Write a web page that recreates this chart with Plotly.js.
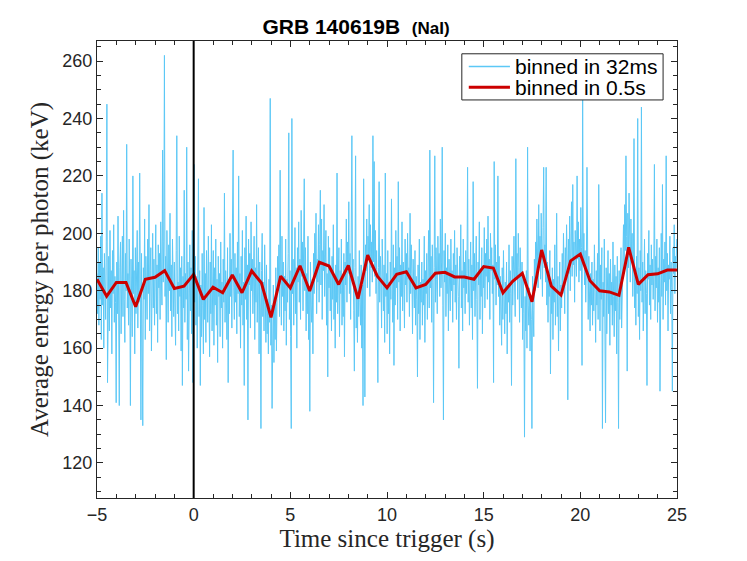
<!DOCTYPE html>
<html>
<head>
<meta charset="utf-8">
<script src="https://cdn.plot.ly/plotly-3.0.1.min.js"></script>
<style>
  html, body { margin: 0; padding: 0; background: #fff; }
  #plot { width: 747px; height: 561px; }
</style>
</head>
<body>
<div id="plot"></div>
<script>
// ── Data ──────────────────────────────────────────────────────────────────────
const T_START   = -5;      // s, first bin
const FINE_BIN  = 0.032;   // s
const COARSE_BIN = 0.5;    // s
const TRIGGER_T = 0;

const FINE_NAME   = 'binned in 32ms';
const COARSE_NAME = 'binned in 0.5s';

// average energy per photon (keV), 32 ms bins
const fineKeV = [
  186,172,195,168,190,177,199,163,214,175,188,160,193,181,170,197,245,148,183,192,166,201,174,187,158,
  194,179,203,169,185,176,141,190,172,206,181,140,188,197,165,184,199,171,208,177,162,193,180,231,174,
  186,168,198,182,140,191,175,164,220,179,187,158,195,172,183,201,167,190,176,221,181,135,193,170,133,
  188,177,205,163,192,184,170,198,179,210,166,187,195,159,183,200,174,191,168,185,203,172,189,162,196,
  181,193,170,204,186,175,229,183,197,262,178,192,156,201,185,169,196,180,207,173,189,164,198,182,171,
  190,176,161,194,234,172,183,166,199,178,188,159,192,147,185,174,215,169,186,177,230,163,190,152,181,
  196,173,188,165,201,148,184,224,176,192,168,185,160,179,219,171,187,147,182,164,193,175,158,209,170,
  186,162,194,177,169,199,183,157,190,172,203,166,181,194,161,188,175,198,168,184,155,192,178,186,164,
  197,174,183,160,191,176,214,169,187,180,163,195,148,184,172,200,178,191,167,205,229,181,170,193,176,
  188,165,197,179,220,171,186,160,192,175,201,168,183,147,195,177,206,170,189,135,198,182,193,167,204,
  180,191,172,186,199,163,188,176,210,169,184,195,158,190,174,132,187,200,171,183,166,196,179,162,189,
  165,177,158,184,169,247,161,175,139,170,182,155,176,163,188,159,173,192,180,196,171,222,185,168,199,
  178,190,166,185,173,198,161,184,176,193,235,170,187,164,132,240,179,191,168,182,202,172,188,160,195,
  183,204,176,191,170,208,185,197,173,189,219,180,195,166,186,172,199,163,181,138,190,175,169,184,158,
  193,179,200,185,207,172,191,183,203,176,196,215,182,205,170,194,187,210,178,190,201,168,186,150,199,
  181,195,173,188,166,192,177,203,170,185,160,189,176,221,172,183,195,164,187,179,198,168,184,171,193,
  157,190,182,205,176,197,186,211,179,193,170,200,234,184,191,173,152,188,227,167,180,162,185,171,194,
  176,168,189,160,182,140,219,174,143,196,187,205,181,199,192,210,178,203,188,197,183,234,190,225,185,
  201,179,194,171,148,188,218,176,192,184,167,198,180,173,189,162,221,178,186,165,194,172,183,158,190,
  177,212,184,169,196,154,188,175,201,181,192,170,218,183,195,166,189,178,204,173,190,185,167,198,182,
  193,176,200,184,188,171,207,179,196,186,165,191,180,174,194,168,185,177,150,189,172,198,163,183,176,
  190,168,184,175,199,162,187,179,193,170,186,201,174,229,181,192,169,196,183,141,188,227,176,195,184,
  172,199,186,193,178,205,181,190,230,175,135,194,183,200,171,188,179,196,166,191,184,173,198,180,187,
  169,193,182,201,176,189,170,195,184,178,153,192,185,203,174,187,166,198,181,190,172,194,179,186,223,
  176,191,168,185,197,174,189,163,218,180,193,171,186,199,177,146,190,182,204,170,187,178,195,165,188,
  181,202,174,193,185,198,177,206,183,191,170,200,187,195,179,189,148,225,184,196,175,190,182,220,178,
  192,168,185,174,161,188,170,194,177,165,183,172,190,158,181,176,196,169,187,179,147,192,175,186,199,
  182,171,226,185,193,177,200,188,169,195,181,174,190,163,184,172,129,178,166,187,160,230,175,168,181,
  159,177,170,132,185,173,164,191,180,197,186,205,192,181,210,189,199,184,207,193,178,202,223,188,196,
  183,223,175,190,169,186,178,194,151,181,172,188,163,184,176,196,168,180,207,171,185,159,178,190,166,
  182,174,193,179,200,187,172,195,184,203,190,142,198,186,206,180,193,211,185,217,189,197,176,201,192,
  185,220,191,204,183,198,187,209,195,154,248,189,200,182,194,176,188,223,179,170,192,181,166,186,175,
  190,168,184,173,196,179,162,187,175,193,170,217,181,166,189,177,195,132,183,171,198,176,134,188,165,
  180,194,172,186,161,191,175,183,168,197,178,164,189,173,185,158,192,176,132,187,170,182,195,167,184,
  191,203,186,210,194,227,199,152,207,188,214,196,183,205,192,200,178,189,233,174,185,168,192,179,240,
  171,188,163,194,180,244,176,190,166,185,198,172,187,179,147,193,184,201,175,189,170,196,182,191,177,
  186,224,173,192,181,198,169,188,176,195,145,184,200,178,217,170,191,183,197,175,227,180,193,166,189,
  184,199,172,190,181,145,195,186,203,179,192,188,198
];

// average energy per photon (keV), 0.5 s bins
const coarseKeV = [
  184.0,178.1,182.9,182.9,174.4,184.0,184.7,187.0,180.8,181.6,
  185.7,177.0,181.2,179.3,185.5,179.3,186.9,182.8,170.7,185.1,
  181.0,188.7,179.9,189.9,188.6,182.2,188.8,177.2,192.4,185.1,
  181.0,185.7,186.6,181.0,182.2,186.1,186.4,184.8,184.8,184.0,
  188.4,187.9,179.3,183.3,186.1,176.2,194.2,181.6,178.5,190.4,
  192.8,183.5,180.0,179.6,178.4,195.1,182.2,185.6,185.9,187.2,
  187.2
];

const X_RANGE = [-5, 25];
const Y_RANGE = [107.8, 267];

// ── Styles ────────────────────────────────────────────────────────────────────
const SANS  = "'Liberation Sans', Arial, sans-serif";
const SERIF = "'Liberation Serif', 'Times New Roman', serif";
const INK   = '#262626';
const FINE_LINE   = { color: '#5cc8f6', width: 1 };
const COARSE_LINE = { color: '#cc0000', width: 3 };

const TICK_FONT  = { family: SANS,  size: 18, color: INK };
const LABEL_FONT = { family: SERIF, size: 25, color: INK };

const AXIS_BOX = {
  showline: true, linecolor: INK, linewidth: 1,
  mirror: 'ticks', ticks: 'inside', ticklen: 6, tickcolor: INK, tickwidth: 1,
  showgrid: false, zeroline: false,
  tickfont: TICK_FONT,
};

// ── Traces ────────────────────────────────────────────────────────────────────
const traces = [
  {
    type: 'scatter', mode: 'lines',
    x0: T_START, dx: FINE_BIN, y: fineKeV,
    line: FINE_LINE, name: FINE_NAME,
  },
  {
    type: 'scatter', mode: 'lines',
    x0: T_START, dx: COARSE_BIN, y: coarseKeV,
    line: COARSE_LINE, name: COARSE_NAME,
  },
];

// ── Legend box (MATLAB-style, tighter rows than Plotly's own legend) ──────────
// paper coords of the box and its two rows
const LEG = { x0: 0.629, x1: 0.976, y0: 0.871, y1: 0.972,
              lineX0: 0.641, lineX1: 0.712, textX: 0.717,
              rows: [0.944, 0.899] };

function legendShapes() {
  const box = {
    type: 'rect', xref: 'paper', yref: 'paper', layer: 'above',
    x0: LEG.x0, x1: LEG.x1, y0: LEG.y0, y1: LEG.y1,
    fillcolor: '#fff', line: { color: INK, width: 1 },
  };
  const samples = [FINE_LINE, COARSE_LINE].map((ln, i) => ({
    type: 'line', xref: 'paper', yref: 'paper', layer: 'above',
    x0: LEG.lineX0, x1: LEG.lineX1, y0: LEG.rows[i], y1: LEG.rows[i],
    line: { color: ln.color, width: ln.width === 1 ? 1.5 : ln.width },
  }));
  return [box, ...samples];
}

function legendLabels() {
  return [FINE_NAME, COARSE_NAME].map((name, i) => ({
    xref: 'paper', yref: 'paper', x: LEG.textX, y: LEG.rows[i],
    xanchor: 'left', yanchor: 'middle', showarrow: false,
    text: name, font: { family: SANS, size: 21, color: '#000' },
  }));
}

// ── Layout ────────────────────────────────────────────────────────────────────
const layout = {
  width: 747, height: 561,
  margin: { l: 97, r: 70, t: 41, b: 63 },
  paper_bgcolor: '#fff', plot_bgcolor: '#fff',
  title: {
    text: '<b>GRB 140619B</b>\u00a0\u00a0<span style="font-size:17px"><b>(NaI)</b></span>',
    font: { family: SANS, size: 21, color: '#000' },
    x: 0.4466, xref: 'paper', xanchor: 'center',
    y: 0.953, yref: 'container', yanchor: 'middle',
  },
  showlegend: false,
  xaxis: {
    ...AXIS_BOX,
    range: X_RANGE, tick0: 0, dtick: 5,
    minor: { dtick: 1, ticks: 'inside', ticklen: 4, tickcolor: INK },
    title: { text: 'Time since trigger (s)', font: LABEL_FONT, standoff: 4 },
  },
  yaxis: {
    ...AXIS_BOX,
    range: Y_RANGE, tick0: 0, dtick: 20,
    minor: { dtick: 5, ticks: 'inside', ticklen: 4, tickcolor: INK },
    title: { text: 'Average energy per photon (keV)', font: LABEL_FONT, standoff: 6 },
  },
  shapes: [
    // trigger time marker
    {
      type: 'line', xref: 'x', yref: 'paper',
      x0: TRIGGER_T, x1: TRIGGER_T, y0: 0, y1: 1,
      line: { color: '#000', width: 2 },
    },
    ...legendShapes(),
  ],
  annotations: legendLabels(),
};

Plotly.newPlot('plot', traces, layout, { staticPlot: true, displayModeBar: false });
</script>
</body>
</html>
